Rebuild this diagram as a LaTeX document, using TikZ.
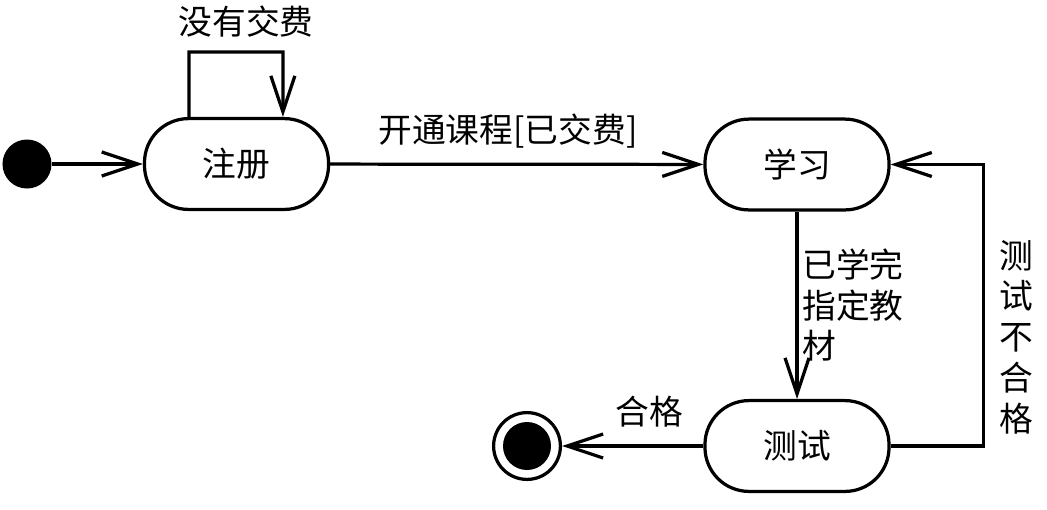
\documentclass[tikz,border=0pt]{standalone}
\usepackage{fontspec}
\usepackage{tikz}
\usetikzlibrary{arrows.meta}
\setmainfont{Noto Sans CJK SC}

\tikzset{
	state/.style={draw,line width=2.3pt,rectangle,rounded corners=1.1cm,minimum width=4.6cm,minimum height=2.27cm,font=\fontsize{24}{29}\selectfont},
	trans/.style={line width=2.3pt,-{Straight Barb[length=0.9cm,width=0.6cm,line width=2.3pt]}},
	lbl/.style={font=\fontsize{24}{29}\selectfont,inner sep=0pt},
}

\begin{document}
\begin{tikzpicture}[x=0.025cm,y=-0.025cm]
		\useasboundingbox (0,0) rectangle (1047,509);
		
		\node[circle,fill,minimum size=1.225cm,inner sep=0pt] (start) at (27,164) {};
		\node[state] (zhuce) at (236.5,164) {注册};
		\node[state] (xuexi) at (797,164.5) {学习};
		\node[state] (ceshi) at (797,446) {测试};
		\node[circle,draw,line width=2.3pt,minimum size=1.67cm,inner sep=0pt] (end) at (527,446) {};
		\node[circle,fill,minimum size=1.2cm,inner sep=0pt] (endin) at (end) {};
		
		\draw[trans] (start) -- (zhuce);
		\draw[trans] ([xshift=-1.19cm]zhuce.north) -- ++(0,-65) -- ++(94,0) -- ([xshift=1.16cm]zhuce.north);
		\draw[trans] (zhuce) -- (xuexi);
		\draw[trans] (xuexi) -- (ceshi);
		\draw[trans] (ceshi) -- (end);
		\draw[trans] (ceshi.east) -- ++(93,0) |- (xuexi.east);
		
		\node[lbl] (nopay) at (246,22) {没有交费};
		\node[lbl] (paid) at (508,131) {开通课程[已交费]};
		\node[lbl,align=left,anchor=west] (done) at (802,305) {已学完\\指定教\\材};
		\node[lbl] (pass) at (649,412) {合格};
		\node[lbl,align=center] (fail) at (1016,337) {测\\试\\不\\合\\格};
	\end{tikzpicture}
\end{document}
